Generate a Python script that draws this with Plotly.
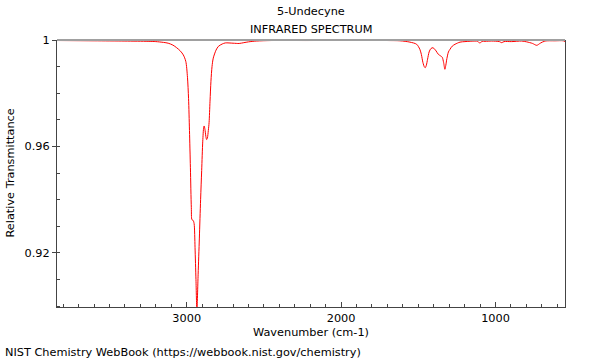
import plotly.graph_objects as go

# Spectrum (wavenumber cm-1, relative transmittance)
wavenumber = [
    3840, 3600, 3400, 3250, 3200, 3150, 3120, 3090, 3065, 3040, 3022, 3006,
    2995, 2988, 2982, 2976, 2970, 2966, 2958, 2952, 2946, 2940, 2934, 2926,
    2918, 2910, 2903, 2896, 2890, 2887, 2882, 2876, 2871, 2866, 2860, 2855,
    2849, 2843, 2836, 2828, 2810, 2795, 2770, 2750, 2700, 2660, 2630, 2600,
    2550, 2450, 2200, 2000, 1800, 1700, 1619, 1554, 1511, 1490, 1480, 1470,
    1460, 1455, 1448, 1440, 1430, 1418, 1405, 1395, 1385, 1370, 1355, 1345,
    1336, 1328, 1322, 1315, 1305, 1295, 1280, 1262, 1230, 1198, 1133, 1115,
    1101, 1088, 1068, 1025, 975, 960, 945, 895, 831, 798, 760, 733, 710,
    680, 615, 561, 550,
]
transmittance = [
    0.9998, 0.9997, 0.9996, 0.9995, 0.9994, 0.9991, 0.9988, 0.9981, 0.9971, 0.9958, 0.9944, 0.9920,
    0.9860, 0.9780, 0.9660, 0.9520, 0.9370, 0.9325, 0.9322, 0.9310, 0.9220, 0.9100, 0.8985, 0.9120,
    0.9256, 0.9400, 0.9510, 0.9620, 0.9672, 0.9677, 0.9665, 0.9638, 0.9626, 0.9632, 0.9660, 0.9690,
    0.9770, 0.9845, 0.9900, 0.9932, 0.9962, 0.9976, 0.9985, 0.9989, 0.9988, 0.9987, 0.9990, 0.9993,
    0.9996, 0.9998, 0.9998, 0.9999, 0.9999, 0.9998, 0.9997, 0.9992, 0.9984, 0.9965, 0.9945, 0.9915,
    0.9898, 0.9896, 0.9905, 0.9928, 0.9955, 0.9968, 0.9971, 0.9966, 0.9959, 0.9946, 0.9940, 0.9935,
    0.9915, 0.9890, 0.9905, 0.9930, 0.9955, 0.9965, 0.9977, 0.9984, 0.9992, 0.9994, 0.9996, 0.9995,
    0.9988, 0.9995, 0.9995, 0.9996, 0.9994, 0.9990, 0.9994, 0.9994, 0.9996, 0.9993, 0.9987, 0.9980, 0.9988,
    0.9996, 0.9997, 0.9997, 0.9994,
]

x_tick_vals = [3000, 2000, 1000]
x_tick_text = ["3000", "2000", "1000"]
y_tick_vals = [0.92, 0.96, 1.0]
y_tick_text = ["0.92", "0.96", "1"]

title_lines = ["5-Undecyne", "INFRARED SPECTRUM"]
x_title = "Wavenumber (cm-1)"
y_title = "Relative Transmittance"
footer = "NIST Chemistry WebBook (https://webbook.nist.gov/chemistry)"

FONT = "DejaVu Sans"
FS = 11.3
L, R, T, B = 57, 35, 40, 53
W, H = 600, 360
PW, PH = W - L - R, H - T - B


def px_x(px):
    return (px - L) / PW


def px_y(py):
    return (H - B - py) / PH


fig = go.Figure()
fig.add_trace(go.Scatter(
    x=wavenumber, y=transmittance, mode="lines",
    line=dict(color="#ff0000", width=1, shape="spline", smoothing=0.8),
    hoverinfo="skip", showlegend=False,
))

fig.update_layout(
    width=W, height=H,
    margin=dict(l=L, r=R, t=T, b=B),
    paper_bgcolor="white", plot_bgcolor="white",
    font=dict(family=FONT, size=FS, color="#000"),
    showlegend=False,
    xaxis=dict(
        range=[3840, 550], showgrid=False, zeroline=False,
        showline=True, linecolor="#444", linewidth=1, mirror=False,
        tickmode="array", tickvals=x_tick_vals, ticktext=x_tick_text,
        ticks="inside", ticklen=5, tickcolor="#444",
        minor=dict(dtick=100, tick0=0, ticks="inside", ticklen=3, tickcolor="#444"),
        tickfont=dict(family=FONT, size=FS, color="#000"),
    ),
    yaxis=dict(
        range=[0.8997, 1.0], showgrid=False, zeroline=False,
        showline=True, linecolor="#444", linewidth=1, mirror=True,
        tickmode="array", tickvals=y_tick_vals, ticktext=y_tick_text,
        ticks="outside", ticklen=4, tickcolor="#444",
        minor=dict(dtick=0.01, tick0=0.9, ticks="inside", ticklen=3, tickcolor="#444"),
        tickfont=dict(family=FONT, size=FS, color="#000"),
    ),
    shapes=[dict(type="line", xref="paper", yref="paper", x0=0, x1=1, y0=1, y1=1,
                 line=dict(color="#a0a0a0", width=2))],
)

ann = [
    dict(text=title_lines[0], x=0.5, y=px_y(12)),
    dict(text=title_lines[1], x=0.5, y=px_y(30)),
    dict(text=x_title, x=0.5, y=px_y(332)),
    dict(text=footer, x=px_x(3), y=px_y(352), xanchor="left"),
    dict(text=y_title, x=px_x(10), y=0.5, textangle=-90),
]
for a in ann:
    a.setdefault("xanchor", "center")
    fig.add_annotation(xref="paper", yref="paper", yanchor="middle", showarrow=False,
                       font=dict(family=FONT, size=FS, color="#000"), **a)

fig.write_html(
    "out.html",
    config={"displayModeBar": False},
    post_script="document.body.style.margin='0';document.body.style.overflow='hidden';",
)
